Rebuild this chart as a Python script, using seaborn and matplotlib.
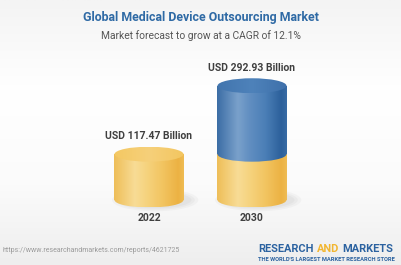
import numpy as np
import pandas as pd
import matplotlib
matplotlib.use("Agg")
import matplotlib.pyplot as plt
import seaborn as sns
from matplotlib.patches import Ellipse
from matplotlib.colors import LinearSegmentedColormap

# ---- data ----
years = ["2022", "2030"]
values = [117.47, 292.93]
base_values = [117.47, 117.47]
value_labels = ["USD 117.47 Billion", "USD 292.93 Billion"]
title = "Global Medical Device Outsourcing Market"
subtitle = "Market forecast to grow at a CAGR of 12.1%"
source = "https://www.researchandmarkets.com/reports/4621725"

W, H = 402, 265
sns.set_theme(style="white")
plt.rcParams['font.family'] = ['Roboto', 'DejaVu Sans']

fig = plt.figure(figsize=(W / 100, H / 100), dpi=100)

# background gradient
bg = fig.add_axes([0, 0, 1, 1], zorder=0)
bgcmap = LinearSegmentedColormap.from_list(
    "bg", [(0, "#f4f4f4"), (0.35, "#ffffff"), (0.7, "#fbfbfb"), (1.0, "#eeeeee")])
bg.imshow(np.linspace(0, 1, 256).reshape(-1, 1), aspect="auto", cmap=bgcmap,
          extent=[0, 1, 0, 1])
bg.set_axis_off()

ax = fig.add_axes([0, 0, 1, 1], zorder=1)
ax.patch.set_alpha(0)

BAR_W = 0.67
df_total = pd.DataFrame({"year": years, "value": values})
df_base = pd.DataFrame({"year": years, "value": base_values})
sns.barplot(data=df_total, x="year", y="value", color="#4A7DB5", width=BAR_W,
            saturation=1, ax=ax, errorbar=None)
sns.barplot(data=df_base, x="year", y="value", color="#F3C763", width=BAR_W,
            saturation=1, ax=ax, errorbar=None)

patches = list(ax.patches)
total_patches = patches[:2]
base_patches = patches[2:4]
for p in patches:
    p.set_facecolor("none")
    p.set_edgecolor("none")

# axes scaling: x centers at 149/252 px, baseline at 200 px from top
px_x = 103.0
px_y = 0.39
base_px_from_bottom = H - 200
xlim = (-149 / px_x, (W - 149) / px_x)
ylim = (-base_px_from_bottom / px_y, (H - base_px_from_bottom) / px_y)
ELL_H = 15 / px_y

yellow_body = LinearSegmentedColormap.from_list("yb", [
    (0, "#EEBE58"), (0.3, "#F8DC96"), (0.45, "#F6D480"), (0.7, "#F2C460"),
    (0.92, "#ECB243"), (1.0, "#EFBC54")])
blue_body = LinearSegmentedColormap.from_list("bb", [
    (0, "#3B6DA5"), (0.3, "#7AA1CB"), (0.45, "#6390C2"), (0.7, "#4A7EB6"),
    (0.92, "#2C609B"), (1.0, "#386BA5")])
yellow_top = LinearSegmentedColormap.from_list("yt", ["#F4C862", "#F6D07A", "#F3C660"])
blue_top = LinearSegmentedColormap.from_list("bt", ["#4275AE", "#4E82BA", "#3E70AA"])

hgrad = np.linspace(0, 1, 256).reshape(1, -1)


def grad_fill(clip_patch, x0, x1, y0, y1, cmap, z):
    im = ax.imshow(hgrad, aspect="auto", cmap=cmap, extent=[x0, x1, y0, y1],
                   zorder=z, interpolation="bicubic")
    im.set_clip_path(clip_patch)


for i in range(len(years)):
    bp = base_patches[i]
    tp = total_patches[i]
    x0 = bp.get_x()
    x1 = x0 + bp.get_width()
    xc = (x0 + x1) / 2
    base_top = bp.get_y() + bp.get_height()
    total_top = tp.get_y() + tp.get_height()

    # soft shadow
    for k, a in enumerate([0.05, 0.05, 0.06]):
        sh = Ellipse((xc + 0.06, 0), BAR_W * (1.25 - 0.1 * k), ELL_H * (1.5 - 0.2 * k),
                     facecolor="#777777", edgecolor="none", alpha=a, zorder=1)
        ax.add_patch(sh)

    # bottom cap (yellow)
    e_bot = Ellipse((xc, 0), BAR_W, ELL_H, facecolor="none", edgecolor="none")
    ax.add_patch(e_bot)
    grad_fill(e_bot, x0, x1, -ELL_H / 2, ELL_H / 2, yellow_body, 2)
    # yellow body
    grad_fill(bp, x0, x1, 0, base_top, yellow_body, 3)

    if total_top > base_top + 1e-6:
        # blue body
        grad_fill(tp, x0, x1, base_top, total_top, blue_body, 3)
        e_mid = Ellipse((xc, base_top), BAR_W, ELL_H, facecolor="none", edgecolor="none")
        ax.add_patch(e_mid)
        grad_fill(e_mid, x0, x1, base_top - ELL_H / 2, base_top + ELL_H / 2, blue_body, 4)
        e_top = Ellipse((xc, total_top), BAR_W, ELL_H, facecolor="none", edgecolor="none")
        ax.add_patch(e_top)
        grad_fill(e_top, x0, x1, total_top - ELL_H / 2, total_top + ELL_H / 2, blue_top, 5)
    else:
        e_top = Ellipse((xc, base_top), BAR_W, ELL_H, facecolor="none", edgecolor="none")
        ax.add_patch(e_top)
        grad_fill(e_top, x0, x1, base_top - ELL_H / 2, base_top + ELL_H / 2, yellow_top, 5)

    # labels
    ax.annotate(value_labels[i], (xc, total_top), xytext=(0, 18 * 0.72),
                textcoords="offset points", ha="center", va="center",
                fontsize=7.5, fontweight="bold", color="#3f3f3f", zorder=10)
    ax.annotate(years[i], (xc, 0), xytext=(0, -18 * 0.72),
                textcoords="offset points", ha="center", va="center",
                fontsize=7.5, fontweight="bold", color="#3f3f3f", zorder=10)

ax.set_xlim(*xlim)
ax.set_ylim(*ylim)
ax.set_axis_off()


def fy(ypx):
    return 1 - ypx / H


fig.text(0.5, fy(17), title, ha="center", va="center", fontsize=8.9,
         fontweight="bold", color="#2F6AA5")
fig.text(0.5, fy(36), subtitle, ha="center", va="center", fontsize=7.4,
         color="#555555")
fig.text(3 / W, fy(250), source, ha="left", va="center", fontsize=5,
         color="#9a9a9a")

# logo, placed piece by piece
logo_blue = "#2B62A0"
renderer = fig.canvas.get_renderer()
xpos = 258.0
for word, col in [("RESEARCH", logo_blue), ("AND", "#F2B630"), ("MARKETS", logo_blue)]:
    t = fig.text(xpos / W, fy(249), word, ha="left", va="center", fontsize=7.9,
                 fontweight="bold", color=col)
    xpos = t.get_window_extent(renderer).x1 + 3.0
fig.text(258 / W, fy(259.5), "THE WORLD'S LARGEST MARKET RESEARCH STORE",
         ha="left", va="center", fontsize=4.15, fontweight="bold", color=logo_blue)

fig.savefig("out.png", dpi=100)
